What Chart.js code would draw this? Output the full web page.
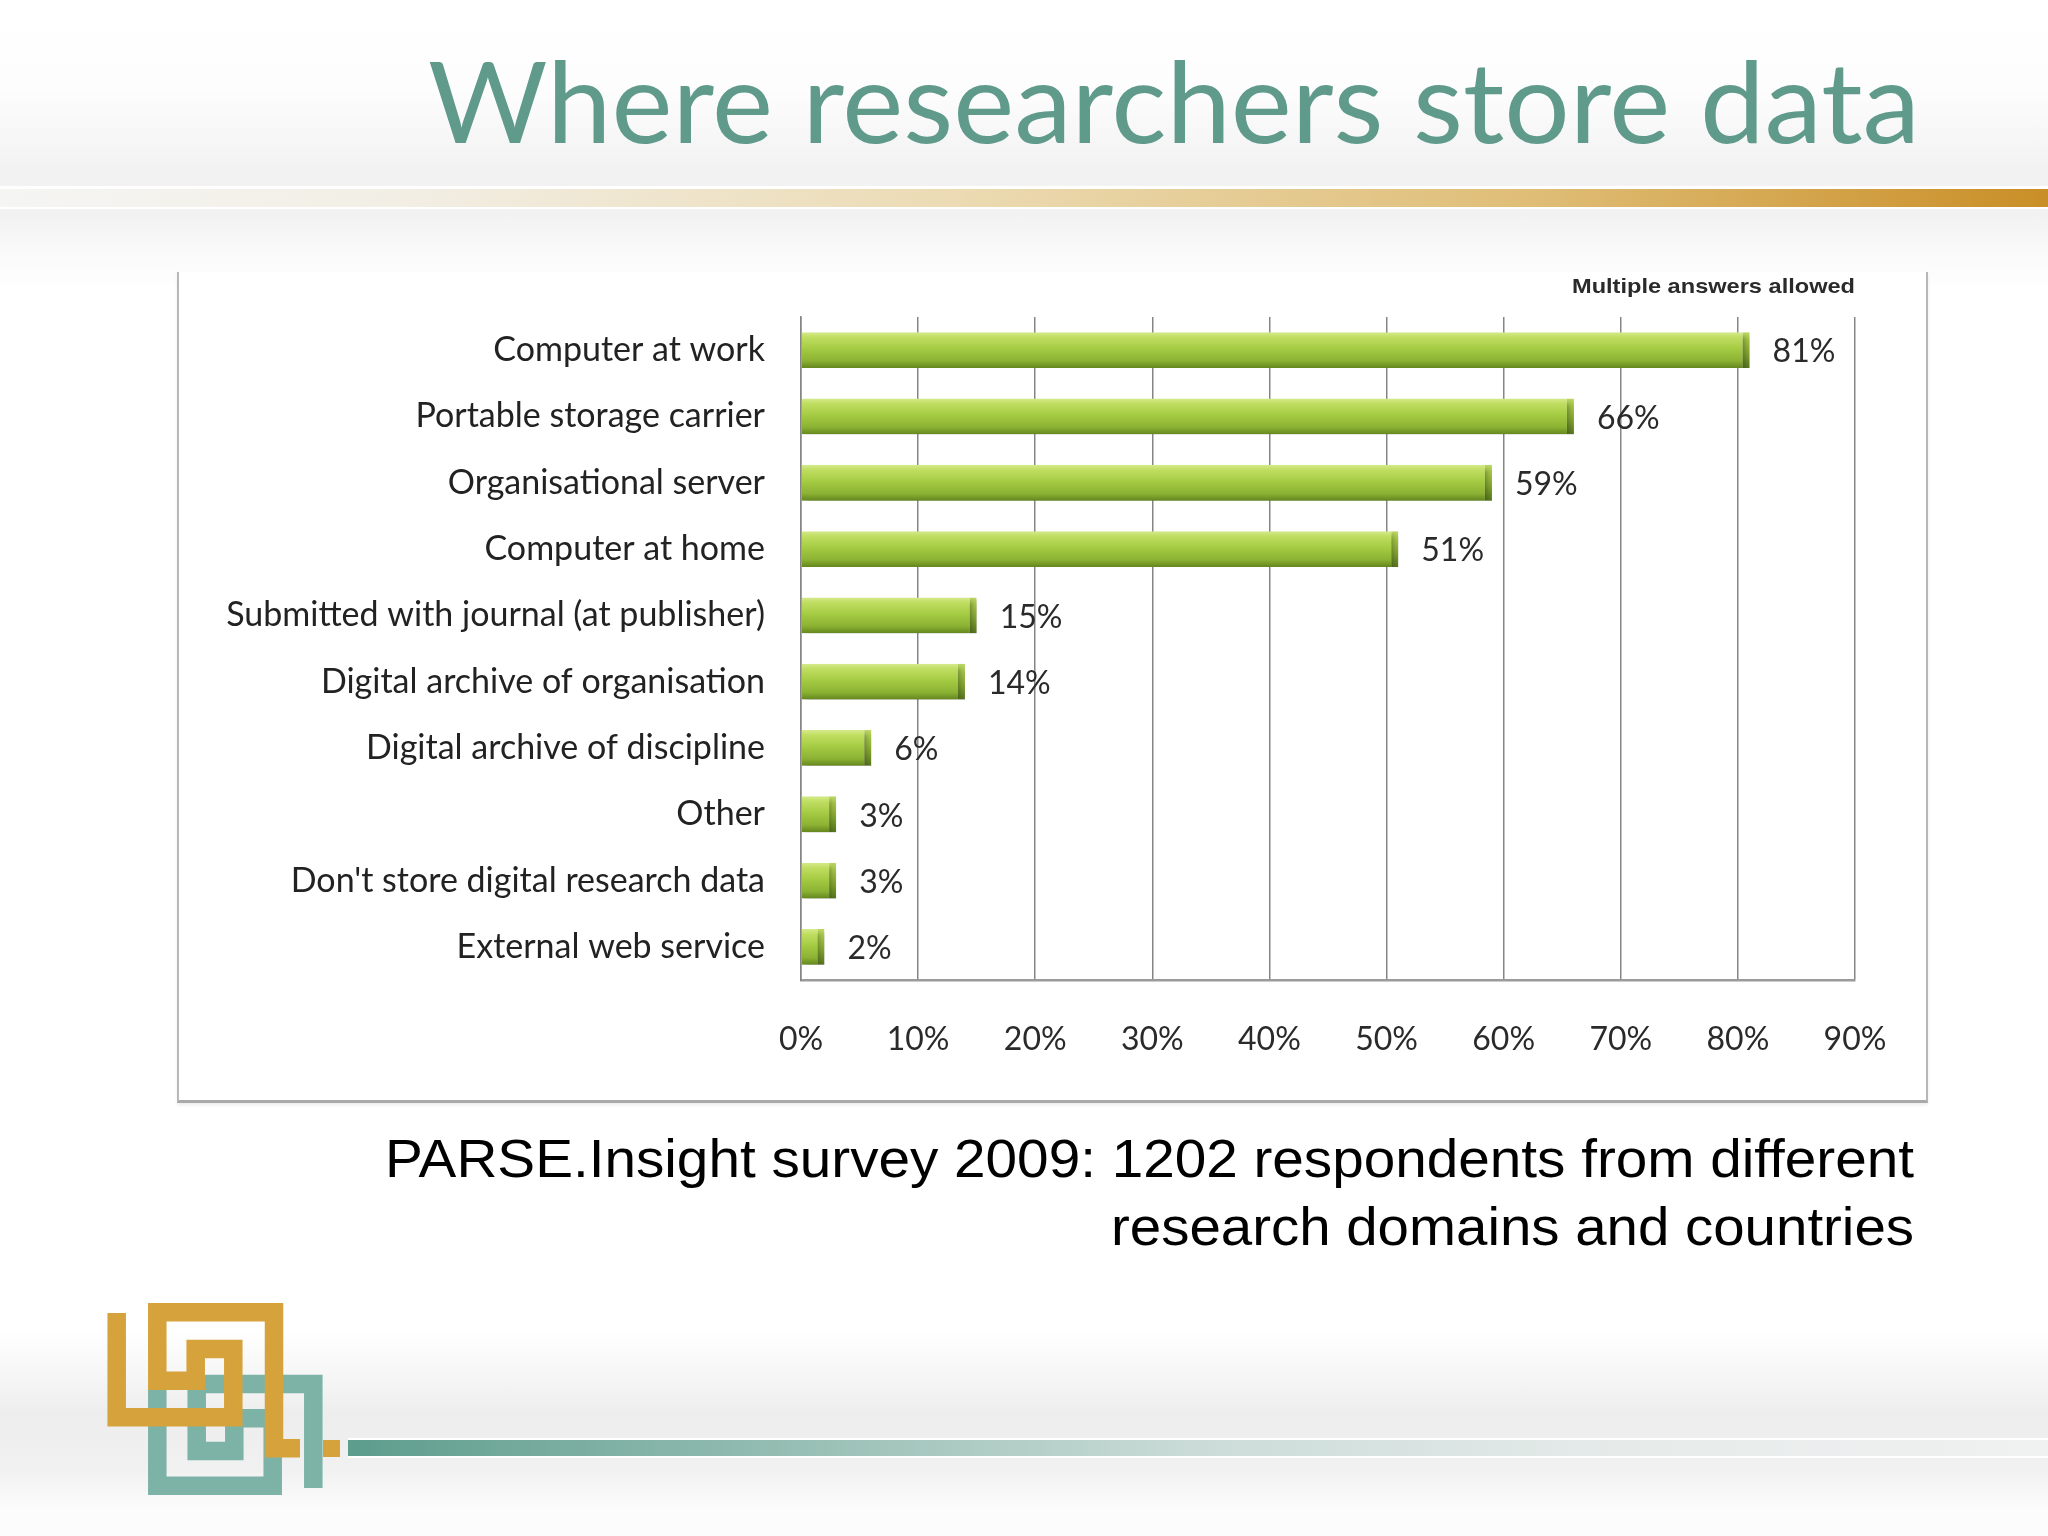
<!DOCTYPE html>
<html><head><meta charset="utf-8">
<script src="https://cdn.jsdelivr.net/npm/chart.js@4.4.1/dist/chart.umd.min.js"></script>
<style>
html,body{margin:0;padding:0;}
body{width:2048px;height:1536px;position:relative;overflow:hidden;
background:linear-gradient(to bottom,#fff 0px,#fdfdfd 90px,#f2f2f2 170px,#f2f2f2 215px,#fafafa 255px,#fff 290px,#fff 1330px,#f6f6f6 1375px,#ededed 1415px,#f1f1f1 1470px,#fcfcfc 1510px);}
#deco{position:absolute;left:0;top:0;}
#box{position:absolute;left:177px;top:272px;width:1751px;height:831px;background:#fff;border-left:2px solid #b8b8b8;border-right:2px solid #b8b8b8;border-bottom:3px solid #a9a9a9;box-sizing:border-box;box-shadow:0 2px 3px rgba(0,0,0,0.08);}
#wrap{position:absolute;left:178px;top:272px;width:1749px;height:828px;}
</style>
</head><body>
<svg id="deco" width="2048" height="1536" xmlns="http://www.w3.org/2000/svg">
<defs>
<linearGradient id="goldbar" x1="0" x2="1" y1="0" y2="0">
<stop offset="0" stop-color="#f5f5f3"/><stop offset="0.2" stop-color="#f2eee4"/><stop offset="0.45" stop-color="#ecdcb6"/><stop offset="0.75" stop-color="#dfbd76"/><stop offset="1" stop-color="#c98e26"/>
</linearGradient>
<linearGradient id="tealbar" x1="0" x2="1" y1="0" y2="0">
<stop offset="0" stop-color="#5d9d8d"/><stop offset="0.25" stop-color="#94bdb2"/><stop offset="0.5" stop-color="#cbdcd8"/><stop offset="0.75" stop-color="#e6ebea"/><stop offset="1" stop-color="#f0f1f1"/>
</linearGradient>
</defs>
<text x="428" y="143" font-family="Lato" font-size="112" fill="#5f9a8b" textLength="1492" lengthAdjust="spacingAndGlyphs">Where researchers store data</text>
<rect x="0" y="186" width="2048" height="3" fill="#ffffff"/>
<rect x="0" y="189" width="2048" height="18" fill="url(#goldbar)"/>
<rect x="0" y="207" width="2048" height="2" fill="#ffffff"/>
<rect x="348" y="1438" width="1700" height="2" fill="#ffffff"/>
<rect x="348" y="1440" width="1700" height="16" fill="url(#tealbar)"/>
<rect x="348" y="1456" width="1700" height="2" fill="#ffffff"/>
<g fill="none" stroke-width="18.5" stroke-linejoin="miter">
<polyline stroke="#7db2a7" points="313.3,1488 313.3,1384 196.7,1384 196.7,1451 234.3,1451 234.3,1418.3 272.7,1418.3 272.7,1485.7 157.3,1485.7 157.3,1390"/>
<polyline stroke="#d6a23c" points="116.7,1313 116.7,1417.3 233.3,1417.3 233.3,1349 195.7,1349 195.7,1380.7 157.3,1380.7 157.3,1312.3 274,1312.3 274,1448.3 300,1448.3"/>
</g>
<rect x="323" y="1440" width="17" height="17" fill="#d6a23c"/>
<text x="385" y="1177" font-family="Liberation Sans" font-size="54" fill="#000" textLength="1529" lengthAdjust="spacingAndGlyphs">PARSE.Insight survey 2009: 1202 respondents from different</text>
<text x="1111" y="1245" font-family="Liberation Sans" font-size="54" fill="#000" textLength="803" lengthAdjust="spacingAndGlyphs">research domains and countries</text>
</svg>
<div id="box"></div>
<div id="wrap"><canvas id="c" width="1749" height="828"></canvas></div>
<script>
const categories = [
  'Computer at work',
  'Portable storage carrier',
  'Organisational server',
  'Computer at home',
  'Submitted with journal (at publisher)',
  'Digital archive of organisation',
  'Digital archive of discipline',
  'Other',
  "Don't store digital research data",
  'External web service'
];
const values = [81, 66, 59, 51, 15, 14, 6, 3, 3, 2];
const xTicks = [0, 10, 20, 30, 40, 50, 60, 70, 80, 90];
const xTickLabels = ['0%', '10%', '20%', '30%', '40%', '50%', '60%', '70%', '80%', '90%'];
const noteText = 'Multiple answers allowed';

const BAR_PCT = 0.54;
const FONT = 'Lato';

function barGrad(ctx, stops, fallback) {
  const ch = ctx.chart, ys = ch.scales.y;
  if (!ys) return fallback;
  const yc = ys.getPixelForValue(ctx.dataIndex);
  const h = (ys.height / categories.length) * BAR_PCT / 2;
  if (!isFinite(yc) || !isFinite(h) || h <= 0) return fallback;
  const g = ch.ctx.createLinearGradient(0, yc - h, 0, yc + h);
  stops.forEach(s => g.addColorStop(s[0], s[1]));
  return g;
}
const fillStops = [[0, '#d6ea8c'], [0.14, '#c0de62'], [0.45, '#a6cc44'], [0.8, '#8bb233'], [1, '#64861e']];
const capStops = [[0, '#bcd867'], [0.2, '#a2c444'], [0.6, '#7fa22c'], [1, '#55751a']];

const barFx = {
  id: 'barFx',
  beforeDatasetsDraw(chart) {
    const c = chart.ctx;
    c.save();
    c.shadowColor = 'rgba(40,40,40,0.4)';
    c.shadowBlur = 5;
    c.shadowOffsetX = 2;
    c.shadowOffsetY = 4;
  },
  afterDatasetsDraw(chart) {
    const c = chart.ctx;
    c.restore();
    c.save();
    c.font = '32px ' + FONT;
    c.fillStyle = '#2a2a2a';
    c.textAlign = 'left';
    c.textBaseline = 'middle';
    const meta = chart.getDatasetMeta(0);
    meta.data.forEach((el, i) => {
      c.fillText(values[i] + '%', el.x + 23, el.y + 2);
    });
    // note in the top right corner, squeezed to the width seen in the source
    c.font = 'bold 21px "Liberation Sans"';
    c.fillStyle = '#2a2a2a';
    c.textAlign = 'left';
    const w = c.measureText(noteText).width;
    const target = 283;
    c.translate(chart.chartArea.right - target, 15);
    c.scale(target / w, 1);
    c.fillText(noteText, 0, 0);
    c.restore();
  }
};

new Chart(document.getElementById('c'), {
  type: 'bar',
  data: {
    labels: categories,
    datasets: [{
      data: values,
      backgroundColor: c => barGrad(c, fillStops, '#a6cc44'),
      borderColor: c => barGrad(c, capStops, '#7fa22c'),
      borderWidth: {top: 0, right: 7, bottom: 0, left: 0},
      borderSkipped: false,
      categoryPercentage: 1,
      barPercentage: BAR_PCT
    }]
  },
  options: {
    responsive: false,
    animation: false,
    indexAxis: 'y',
    layout: {padding: {top: 45, right: 72, left: 0, bottom: 0}},
    plugins: {legend: {display: false}, tooltip: {enabled: false}},
    scales: {
      x: {
        min: xTicks[0], max: xTicks[xTicks.length - 1],
        afterBuildTicks: s => { s.ticks = xTicks.map(v => ({value: v})); },
        ticks: {
          callback: (v) => xTickLabels[xTicks.indexOf(v)],
          padding: 40, color: '#2a2a2a', maxRotation: 0, autoSkip: false,
          font: {family: FONT, size: 32}
        },
        grid: {color: '#858585', lineWidth: 1.5, drawTicks: false},
        border: {display: true, color: '#9a9a9a', width: 2.5},
        afterFit: s => { s.height = 120; s.paddingLeft = 0; s.paddingRight = 0; }
      },
      y: {
        ticks: {padding: 36, color: '#222', autoSkip: false, font: {family: FONT, size: 34}},
        grid: {display: false, drawTicks: false},
        border: {display: true, color: '#858585', width: 1.5},
        afterFit: s => { s.width = 623; s.paddingTop = 0; s.paddingBottom = 0; }
      }
    }
  },
  plugins: [barFx]
});
</script>
</body></html>
